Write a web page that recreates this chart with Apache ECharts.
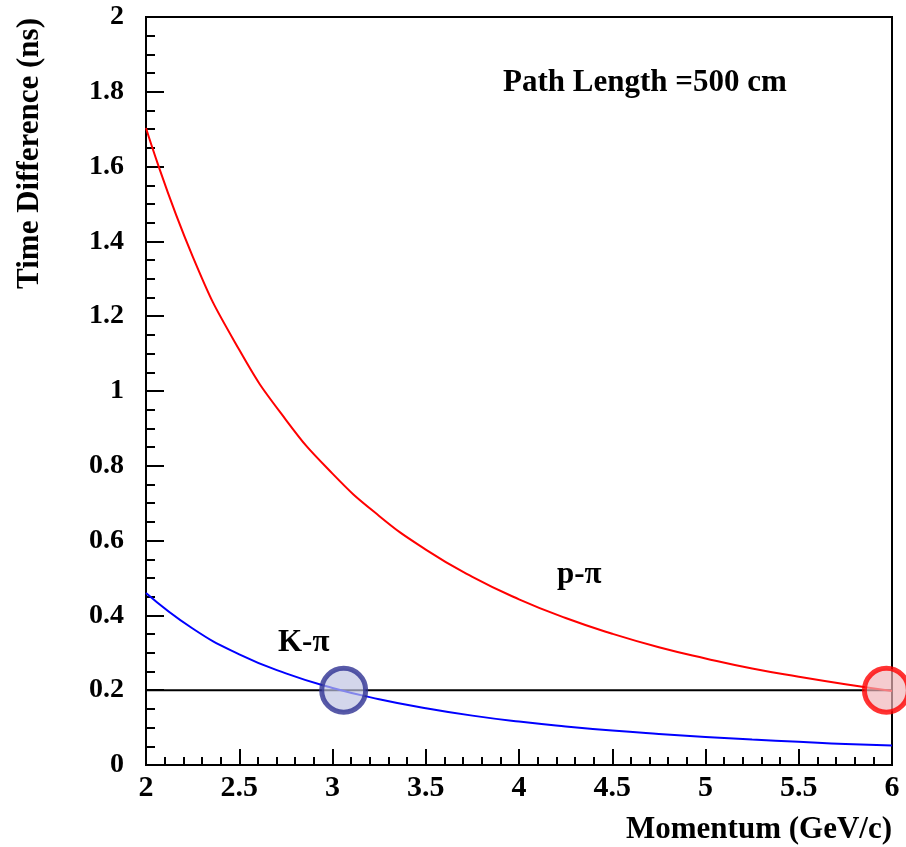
<!DOCTYPE html>
<html>
<head>
<meta charset="utf-8">
<script src="https://cdn.jsdelivr.net/npm/echarts@6/dist/echarts.min.js"></script>
<style>html,body{margin:0;padding:0;background:#fff}#c{width:906px;height:847px}</style>
</head>
<body>
<div id="c"></div>
<script>
const momentum = [2.00, 2.25, 2.50, 2.75, 3.00, 3.25, 3.50, 3.75, 4.00, 4.25, 4.50, 4.75, 5.00, 5.25, 5.50, 5.75, 6.00];
const pPiDiff = [1.703, 1.360, 1.110, 0.923, 0.779, 0.666, 0.576, 0.503, 0.443, 0.393, 0.351, 0.315, 0.285, 0.258, 0.236, 0.216, 0.198];
const kPiDiff = [0.460, 0.365, 0.296, 0.245, 0.206, 0.176, 0.152, 0.132, 0.116, 0.103, 0.092, 0.083, 0.075, 0.068, 0.062, 0.056, 0.052];
const thresholdX = [2, 6];
const thresholdY = 0.2;
const kPiMarker = [3.06, 0.2];
const pPiMarker = [5.97, 0.2];
const xTicks = {min: 2, max: 6, interval: 0.5};
const yTicks = {min: 0, max: 2, interval: 0.2};

const font = '"Liberation Serif", "Times New Roman", serif';
const chart = echarts.init(document.getElementById('c'), null, {renderer: 'canvas'});

const zip = (xs, ys) => xs.map((x, i) => [x, ys[i]]);

chart.setOption({
  animation: false,
  backgroundColor: '#fff',
  grid: {left: 146, right: 14, top: 17, bottom: 82, show: true, borderColor: '#000', borderWidth: 2, backgroundColor: 'transparent'},
  xAxis: {
    type: 'value', min: xTicks.min, max: xTicks.max, interval: xTicks.interval,
    axisLine: {show: true, lineStyle: {color: '#000', width: 2}},
    axisTick: {show: true, inside: true, length: 16, lineStyle: {color: '#000', width: 2}},
    minorTick: {show: true, splitNumber: 5, length: 8, lineStyle: {color: '#000', width: 2}},
    splitLine: {show: false},
    axisLabel: {color: '#000', fontFamily: font, fontWeight: 'bold', fontSize: 30, margin: 8}
  },
  yAxis: {
    type: 'value', min: yTicks.min, max: yTicks.max, interval: yTicks.interval,
    axisLine: {show: true, lineStyle: {color: '#000', width: 2}},
    axisTick: {show: true, inside: true, length: 18, lineStyle: {color: '#000', width: 2}},
    minorTick: {show: true, splitNumber: 4, length: 9, lineStyle: {color: '#000', width: 2}},
    splitLine: {show: false},
    axisLabel: {color: '#000', fontFamily: font, fontWeight: 'bold', fontSize: 28, margin: 22}
  },
  series: [
    {
      type: 'line', data: thresholdX.map(x => [x, thresholdY]), symbol: 'none',
      lineStyle: {color: '#000', width: 2}, z: 2
    },
    {
      type: 'line', name: 'p-π', data: zip(momentum, pPiDiff), symbol: 'none',
      smooth: 0.5, lineStyle: {color: '#ff0000', width: 2}, z: 3
    },
    {
      type: 'line', name: 'K-π', data: zip(momentum, kPiDiff), symbol: 'none',
      smooth: 0.5, lineStyle: {color: '#0000ff', width: 2}, z: 3
    },
    {
      type: 'scatter', data: [kPiMarker], symbol: 'circle', symbolSize: 44, clip: false,
      itemStyle: {color: 'rgba(190,195,225,0.85)', borderColor: '#2e3192', borderWidth: 5}, z: 4
    },
    {
      type: 'scatter', data: [pPiMarker], symbol: 'circle', symbolSize: 44, clip: false,
      itemStyle: {color: 'rgba(240,180,185,0.85)', borderColor: '#ff0000', borderWidth: 5}, z: 4
    }
  ],
  graphic: [
    {type: 'text', x: 503, y: 83, style: {text: 'Path Length =500 cm', font: 'bold 31px ' + font, fill: '#000', textAlign: 'left', textVerticalAlign: 'middle'}},
    {type: 'text', x: 557, y: 575, style: {text: 'p-π', font: 'bold 31px ' + font, fill: '#000', textAlign: 'left', textVerticalAlign: 'middle'}},
    {type: 'text', x: 278, y: 643, style: {text: 'K-π', font: 'bold 31px ' + font, fill: '#000', textAlign: 'left', textVerticalAlign: 'middle'}},
    {type: 'text', x: 892, y: 830, style: {text: 'Momentum (GeV/c)', font: 'bold 31px ' + font, fill: '#000', textAlign: 'right', textVerticalAlign: 'middle'}},
    {type: 'text', x: 30, y: 18, rotation: Math.PI / 2, style: {text: 'Time Difference (ns)', font: 'bold 31px ' + font, fill: '#000', textAlign: 'right', textVerticalAlign: 'middle'}}
  ]
});
</script>
</body>
</html>
